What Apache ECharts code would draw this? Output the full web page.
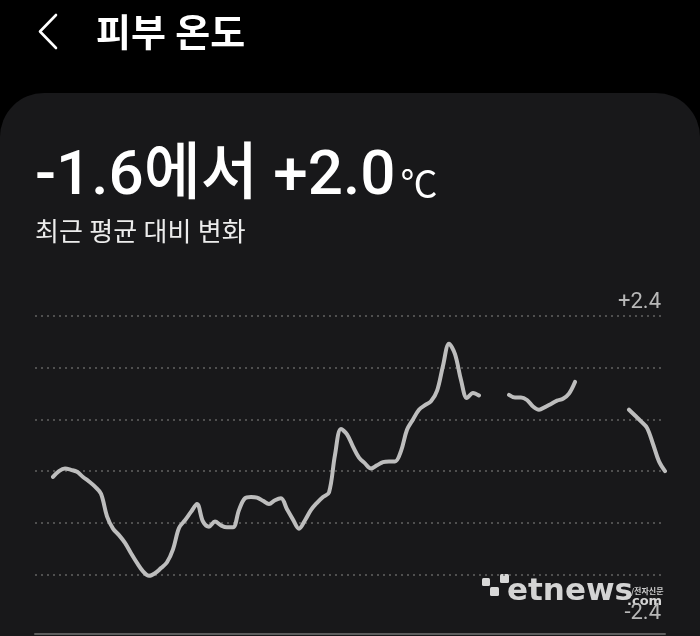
<!DOCTYPE html>
<html>
<head>
<meta charset="utf-8">
<style>
  html, body { margin: 0; padding: 0; background: #000; }
  #chart { width: 700px; height: 636px; }
</style>
<script src="https://cdn.jsdelivr.net/npm/echarts@6/dist/echarts.min.js"></script>
</head>
<body>
<div id="chart"></div>
<script>
// ---- data ----
const pageTitle = '피부 온도';
const rangeMin = '-1.6';
const rangeMax = '+2.0';
const unit = '℃';
const subtitle = '최근 평균 대비 변화';
const gridValues = [2.4, 1.6, 0.8, 0, -0.8, -1.6];
const tickLabels = ['+2.4', '-2.4'];
const tickLabelValues = [2.4, -2.4];
// skin temperature change vs recent average (°C), null = no measurement
const skinTemp = [
  null, null, null,
  -0.09, 0.00, 0.04, 0.02, -0.01, -0.09, -0.16, -0.24, -0.35, -0.70,
  -0.89, -0.99, -1.11, -1.27, -1.42, -1.55, -1.62, -1.58, -1.50, -1.41,
  -1.21, -0.88, -0.76, -0.63, -0.51, -0.78, -0.86, -0.78, -0.84, -0.87,
  -0.87, -0.60, -0.42, -0.40, -0.41, -0.46, -0.51, -0.45, -0.42, -0.59,
  -0.75, -0.89, -0.76, -0.60, -0.49, -0.40, -0.33, 0.25, 0.65, 0.57,
  0.38, 0.21, 0.12, 0.04, 0.09, 0.14, 0.15, 0.15, 0.31, 0.64,
  0.80, 0.95, 1.02, 1.08, 1.24, 1.63, 1.97, 1.81, 1.41, 1.13,
  1.21, 1.17,
  null, null, null, null,
  1.18, 1.14, 1.14, 1.10, 1.00, 0.95, 0.99, 1.04, 1.09, 1.12, 1.20, 1.38,
  null, null, null, null, null, null, null, null,
  0.95, 0.86, 0.77, 0.67, 0.42, 0.15, 0.00
];
const timeIndex = skinTemp.map((_, i) => i);

const fontFam = 'Roboto, "Noto Sans CJK KR", sans-serif';

const chart = echarts.init(document.getElementById('chart'), null, { renderer: 'canvas' });

const markData = gridValues.map(v => ({
  yAxis: v,
  label: { show: tickLabelValues.indexOf(v) >= 0, formatter: tickLabels[tickLabelValues.indexOf(v)] }
}));
markData.push({
  yAxis: tickLabelValues[1],
  lineStyle: { color: 'rgba(0,0,0,0)' },
  label: { show: true, formatter: tickLabels[1], color: '#b8b8b8' }
});

chart.setOption({
  backgroundColor: '#000',
  animation: false,
  title: [
    {
      text: pageTitle, left: 96, top: 17, padding: 0,
      textStyle: { color: '#fff', fontSize: 38, fontWeight: 'bold', fontFamily: fontFam }
    },
    {
      text: '{v|' + rangeMin + '에서 ' + rangeMax + '} {u|' + unit + '}',
      left: 35, top: 147, padding: 0,
      textStyle: {
        rich: {
          v: { color: '#fff', fontSize: 62, fontWeight: 500, fontFamily: fontFam, verticalAlign: 'bottom' },
          u: { color: '#fff', fontSize: 37, fontWeight: 400, fontFamily: fontFam, verticalAlign: 'bottom', padding: [0, 0, 2, 0] }
        }
      }
    },
    {
      text: subtitle, left: 35, top: 221, padding: 0,
      textStyle: { color: '#ececec', fontSize: 26, fontWeight: 'normal', fontFamily: fontFam }
    }
  ],
  graphic: [
    {
      type: 'rect', z: -10, silent: true,
      shape: { x: 0, y: 93, width: 700, height: 600, r: [44, 44, 0, 0] },
      style: { fill: '#18181a' }
    },
    {
      type: 'polyline', z: 10, silent: true,
      shape: { points: [[56, 15], [40, 31.5], [56, 48]] },
      style: { stroke: '#fff', lineWidth: 2.6, fill: null, lineCap: 'round', lineJoin: 'round' }
    },
    {
      type: 'group', z: 10, silent: true,
      children: [
        { type: 'rect', shape: { x: 482, y: 578, width: 8, height: 8, r: 1.5 }, style: { fill: '#d8d8d8' } },
        { type: 'rect', shape: { x: 490, y: 587, width: 9, height: 9, r: 1.5 }, style: { fill: '#d8d8d8' } },
        { type: 'rect', shape: { x: 500, y: 574, width: 9, height: 9, r: 1.5 }, style: { fill: '#d8d8d8' } },
        { type: 'text', style: { text: 'etnews', x: 507, y: 607, textVerticalAlign: 'bottom', fill: '#d4d4d4',
          font: 'bold 31px "DejaVu Sans", sans-serif' } },
        { type: 'text', style: { text: '.com', x: 627, y: 608, textVerticalAlign: 'bottom', fill: '#d4d4d4',
          font: 'bold 13px "DejaVu Sans", sans-serif' } },
        { type: 'text', style: { text: '/전자신문', x: 631, y: 595, textVerticalAlign: 'bottom', fill: '#cfcfcf',
          font: 'bold 8px "Noto Sans CJK KR", sans-serif' } }
      ]
    }
  ],
  grid: { left: 35, right: 35, top: 316, bottom: 2, containLabel: false },
  xAxis: {
    type: 'category',
    data: timeIndex,
    boundaryGap: false,
    axisLine: { show: true, onZero: false, lineStyle: { color: '#5e5e5e', width: 2 } },
    axisTick: { show: false },
    axisLabel: { show: false },
    splitLine: { show: false }
  },
  yAxis: {
    type: 'value',
    min: -2.52,
    max: 2.4,
    axisLine: { show: false },
    axisTick: { show: false },
    axisLabel: { show: false },
    splitLine: { show: false }
  },
  series: [
    {
      type: 'line',
      data: skinTemp,
      smooth: 0.35,
      connectNulls: false,
      showSymbol: false,
      symbol: 'none',
      lineStyle: { color: '#bdbdbd', width: 4, cap: 'round', join: 'round' },
      z: 5,
      markLine: {
        silent: true,
        symbol: 'none',
        z: 1,
        lineStyle: { color: '#626262', type: [2, 4], width: 1.6 },
        label: {
          position: 'insideEndTop',
          distance: [4, 2],
          color: '#b8b8b8',
          fontSize: 22,
          fontFamily: fontFam
        },
        data: markData
      }
    }
  ]
});
</script>
</body>
</html>
